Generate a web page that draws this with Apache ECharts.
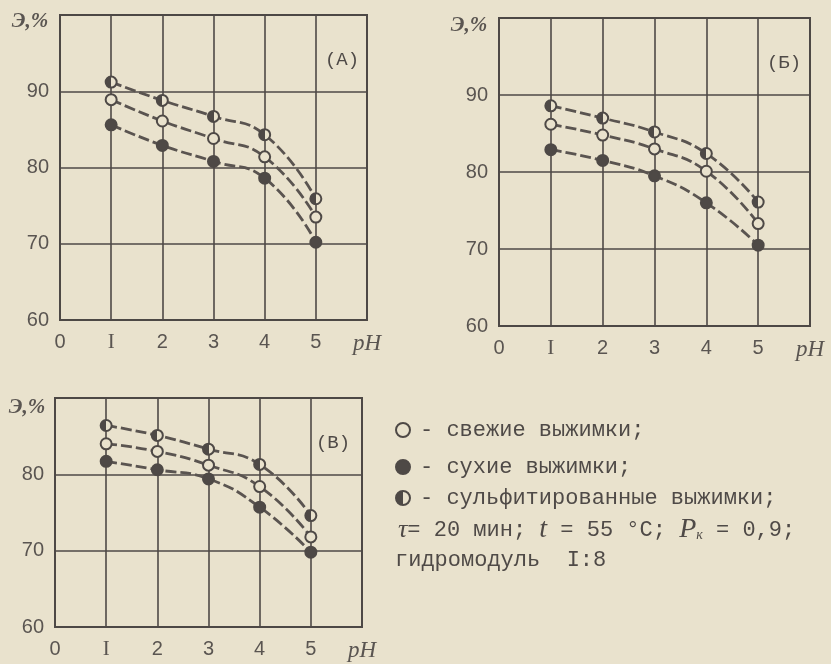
<!DOCTYPE html>
<html><head><meta charset="utf-8">
<script src="https://cdn.jsdelivr.net/npm/echarts@6/dist/echarts.min.js"></script>
<style>html,body{margin:0;padding:0;background:#e9e2cd;}#c{width:831px;height:664px;}</style>
</head><body><div id="c"></div>
<script>
// x values (pH) and tick labels
const pH = [1, 2, 3, 4, 5];
const xTickLabels = ['0', 'I', '2', '3', '4', '5', 'pH'];
const yTicksAB = [60, 70, 80, 90, 100];
const yTicksV = [60, 70, 80, 90];
const panelTitles = ['(A)', '(Б)', '(В)'];
const yTitle = 'Э,%';

// Panel A
const A_sulf  = [91.2, 88.8, 86.7, 84.3, 75.9];
const A_fresh = [88.9, 86.1, 83.8, 81.4, 73.5];
const A_dry   = [85.6, 82.9, 80.8, 78.6, 70.2];
// Panel Б
const B_sulf  = [88.6, 87.0, 85.2, 82.4, 76.1];
const B_fresh = [86.2, 84.8, 83.0, 80.1, 73.3];
const B_dry   = [82.9, 81.5, 79.5, 76.0, 70.5];
// Panel В
const V_sulf  = [86.4, 85.1, 83.3, 81.3, 74.6];
const V_fresh = [84.0, 83.0, 81.2, 78.4, 71.8];
const V_dry   = [81.7, 80.6, 79.4, 75.7, 69.8];

const legendLines = ['- свежие выжимки;', '- сухие выжимки;', '- сульфитированные выжимки;'];
const condLine = 'гидромодуль  I:8';

const BG = '#e9e2cd', INK = '#4e4946', LINE = '#5a5450', TXT = '#5a5551', LTXT = '#4f4a47';
const halfFill = new echarts.graphic.LinearGradient(0, 0, 1, 0, [
  {offset: 0, color: INK}, {offset: 0.5, color: INK}, {offset: 0.5, color: BG}, {offset: 1, color: BG}]);

const chart = echarts.init(document.getElementById('c'), null, {renderer: 'canvas'});

const grids = [
  {left: 60, top: 15, width: 307, height: 305},
  {left: 499, top: 18, width: 311, height: 308},
  {left: 55, top: 398, width: 307, height: 229}
];
const yMax = [100, 100, 90];
const panels = [[A_sulf, A_fresh, A_dry], [B_sulf, B_fresh, B_dry], [V_sulf, V_fresh, V_dry]];

const xAxes = [], yAxes = [], series = [];
grids.forEach((g, i) => {
  g.show = true; g.borderColor = INK; g.borderWidth = 2; g.backgroundColor = 'transparent';
  xAxes.push({
    type: 'value', gridIndex: i, min: 0, max: 6, interval: 1,
    axisLine: {show: false}, axisTick: {show: false},
    splitLine: {show: true, lineStyle: {color: INK, width: 1.6}},
    axisLabel: {
      show: true, margin: 12, color: TXT, fontFamily: 'Liberation Sans', fontSize: 20,
      showMinLabel: true, showMaxLabel: true,
      formatter: v => v === 6 ? '{ph|' + xTickLabels[6] + '}' : (v === 1 ? '{rom|' + xTickLabels[1] + '}' : xTickLabels[v]),
      rich: {
        ph: {fontFamily: 'Liberation Serif', fontStyle: 'italic', fontSize: 23, color: TXT},
        rom: {fontFamily: 'Liberation Serif', fontSize: 21, color: TXT}
      }
    }
  });
  const ticks = i === 2 ? yTicksV : yTicksAB;
  yAxes.push({
    type: 'value', gridIndex: i, min: ticks[0], max: yMax[i], interval: 10,
    axisLine: {show: false}, axisTick: {show: false},
    splitLine: {show: true, lineStyle: {color: INK, width: 1.6}},
    axisLabel: {
      show: true, margin: 11, color: TXT, fontFamily: 'Liberation Sans', fontSize: 20,
      showMinLabel: true, showMaxLabel: true,
      formatter: v => v === yMax[i] ? '' : String(v)
    }
  });
  const fills = [halfFill, BG, INK];
  panels[i].forEach((vals, k) => {
    series.push({
      type: 'line', xAxisIndex: i, yAxisIndex: i,
      data: pH.map((x, j) => [x, vals[j]]),
      smooth: 0.5,
      symbol: 'circle', symbolSize: 11,
      itemStyle: {color: fills[k], borderColor: INK, borderWidth: 2},
      lineStyle: {color: LINE, width: 2.8, type: [11, 4]},
      z: 3, silent: true, animation: false
    });
  });
});

const graphics = [];
const titlePos = [[30, 22], [469, 26], [27, 408]];
titlePos.forEach(p => graphics.push({type: 'text', x: p[0], y: p[1],
  style: {text: yTitle, fill: TXT, font: 'italic bold 21px "Liberation Serif"', textAlign: 'center', textVerticalAlign: 'middle'}}));
const tagPos = [[342, 60], [784, 63], [333, 443]];
tagPos.forEach((p, i) => graphics.push({type: 'text', x: p[0], y: p[1],
  style: {text: panelTitles[i], fill: LTXT, font: '19px "Liberation Mono"', textAlign: 'center', textVerticalAlign: 'middle'}}));

const legY = [430, 467, 498];
const legFills = [BG, INK, halfFill];
legY.forEach((y, i) => {
  graphics.push({type: 'circle', shape: {cx: 403, cy: y, r: 7}, style: {fill: legFills[i], stroke: INK, lineWidth: 2}});
  graphics.push({type: 'text', x: 420, y: y, style: {text: legendLines[i], fill: LTXT, font: '22px "Liberation Mono"', textVerticalAlign: 'middle'}});
});
graphics.push({type: 'text', x: 398, y: 530, style: {
  text: '{tau|τ}= 20 мин; {it|t} = 55 °C; {it|P}{sub|к} = 0,9;',
  fill: LTXT, font: '22px "Liberation Mono"', textVerticalAlign: 'middle',
  rich: {
    tau: {fontFamily: 'Liberation Serif', fontStyle: 'italic', fontSize: 26, fill: LTXT},
    it: {fontFamily: 'Liberation Serif', fontStyle: 'italic', fontSize: 28, fill: LTXT},
    sub: {fontFamily: 'Liberation Serif', fontStyle: 'italic', fontSize: 14, fill: LTXT, padding: [10, 0, 0, 0]}
  }}});
graphics.push({type: 'text', x: 395, y: 560, style: {text: condLine, fill: LTXT, font: '22px "Liberation Mono"', textVerticalAlign: 'middle'}});

chart.setOption({
  backgroundColor: BG,
  animation: false,
  grid: grids, xAxis: xAxes, yAxis: yAxes, series: series,
  graphic: graphics
});
</script></body></html>
